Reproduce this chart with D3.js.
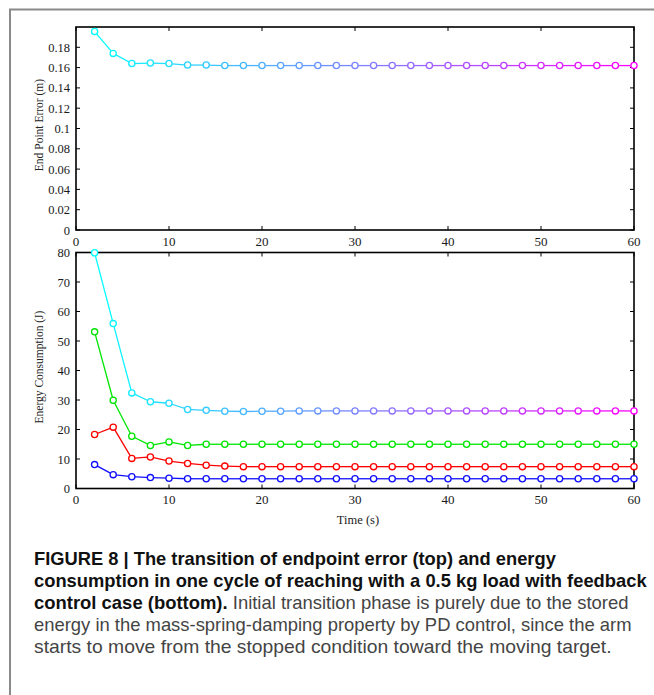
<!DOCTYPE html>
<html>
<head>
<meta charset="utf-8">
<script src="https://cdn.jsdelivr.net/npm/d3@7"></script>
<style>
html,body{margin:0;padding:0;background:#fff;}
svg{display:block;}
</style>
</head>
<body>
<svg id="chart" width="654" height="695"></svg>
<script>
// ---------- data ----------
const time = [2,4,6,8,10,12,14,16,18,20,22,24,26,28,30,32,34,36,38,40,42,44,46,48,50,52,54,56,58,60];

const endPointError = [0.1955,0.174,0.164,0.1645,0.164,0.1625,0.1625,0.162,0.162,0.162,
  0.162,0.162,0.162,0.162,0.162,0.162,0.162,0.162,0.162,0.162,
  0.162,0.162,0.162,0.162,0.162,0.162,0.162,0.162,0.162,0.162];

const energyCool = [79.9,55.9,32.4,29.4,28.9,26.8,26.5,26.2,26.1,26.2,
  26.2,26.3,26.3,26.3,26.3,26.3,26.3,26.3,26.3,26.3,
  26.3,26.3,26.3,26.3,26.3,26.3,26.3,26.3,26.3,26.3];
const energyGreen = [53.1,29.9,17.7,14.6,15.8,14.6,15.0,15.0,15.0,15.0,
  15.0,15.0,15.0,15.0,15.0,15.0,15.0,15.0,15.0,15.0,
  15.0,15.0,15.0,15.0,15.0,15.0,15.0,15.0,15.0,15.0];
const energyRed = [18.3,20.8,10.2,10.7,9.3,8.5,7.9,7.6,7.4,7.4,
  7.4,7.4,7.4,7.4,7.4,7.4,7.4,7.4,7.4,7.4,
  7.4,7.4,7.4,7.4,7.4,7.4,7.4,7.4,7.4,7.4];
const energyBlue = [8.1,4.7,4.0,3.7,3.5,3.3,3.3,3.3,3.3,3.3,
  3.3,3.3,3.3,3.3,3.3,3.3,3.3,3.3,3.3,3.3,
  3.3,3.3,3.3,3.3,3.3,3.3,3.3,3.3,3.3,3.3];

const xTicks = [0,10,20,30,40,50,60];
const errTicks = [0,0.02,0.04,0.06,0.08,0.1,0.12,0.14,0.16,0.18];
const energyTicks = [0,10,20,30,40,50,60,70,80];

const captionLines = [
  [{b:true,t:"FIGURE 8 | The transition of endpoint error (top) and energy"}],
  [{b:true,t:"consumption in one cycle of reaching with a 0.5 kg load with feedback"}],
  [{b:true,t:"control case (bottom)."},{b:false,t:" Initial transition phase is purely due to the stored"}],
  [{b:false,t:"energy in the mass-spring-damping property by PD control, since the arm"}],
  [{b:false,t:"starts to move from the stopped condition toward the moving target."}]
];

// ---------- drawing ----------
const svg = d3.select("#chart");
const serif = "'Liberation Serif','Times New Roman',serif";

// outer frame
svg.append("path").attr("d","M10,695 V9.5 H654").attr("fill","none")
  .attr("stroke","#8a8a8a").attr("stroke-width",2);

const cool = d3.interpolateRgb("#00ffff","#ff00ff");

function panel(opts){
  const {x0,x1,y0,y1,yDomain,yTicks,yFmt,title,titleX,titleY} = opts;
  const x = d3.scaleLinear().domain([0,60]).range([x0,x1]);
  const y = d3.scaleLinear().domain(yDomain).range([y1,y0]);
  const g = svg.append("g");
  const tl = 4;
  const tg = g.append("g").attr("stroke","#000").attr("stroke-width",1);
  xTicks.forEach(v=>{
    tg.append("line").attr("x1",x(v)).attr("x2",x(v)).attr("y1",y1).attr("y2",y1-tl);
    tg.append("line").attr("x1",x(v)).attr("x2",x(v)).attr("y1",y0).attr("y2",y0+tl);
  });
  yTicks.forEach(v=>{
    tg.append("line").attr("x1",x0).attr("x2",x0+tl).attr("y1",y(v)).attr("y2",y(v));
    tg.append("line").attr("x1",x1).attr("x2",x1-tl).attr("y1",y(v)).attr("y2",y(v));
  });
  g.append("rect").attr("x",x0).attr("y",y0).attr("width",x1-x0).attr("height",y1-y0)
    .attr("fill","none").attr("stroke","#000").attr("stroke-width",1.6);
  g.append("g").selectAll("text").data(xTicks).join("text")
    .attr("x",d=>x(d)).attr("y",y1+15.5).attr("text-anchor","middle")
    .attr("font-family",serif).attr("font-size",13).attr("fill","#1a1a1a").text(d=>d);
  g.append("g").selectAll("text").data(yTicks).join("text")
    .attr("x",x0-6).attr("y",d=>y(d)+4.5).attr("text-anchor","end")
    .attr("font-family",serif).attr("font-size",12.5).attr("fill","#1a1a1a").text(yFmt);
  g.append("text").attr("transform",`translate(${titleX},${titleY}) rotate(-90)`)
    .attr("text-anchor","middle").attr("font-family",serif).attr("font-size",11.5)
    .attr("fill","#222").text(title);
  return {x,y,g};
}

function drawSeries(p, values, colorFn){
  const pts = time.map((t,i)=>({t,v:values[i],i}));
  const n = pts.length;
  for(let i=0;i<n-1;i++){
    p.g.append("line")
      .attr("x1",p.x(pts[i].t)).attr("y1",p.y(pts[i].v))
      .attr("x2",p.x(pts[i+1].t)).attr("y2",p.y(pts[i+1].v))
      .attr("stroke",colorFn((i+0.5)/(n-1))).attr("stroke-width",1.3);
  }
  p.g.append("g").selectAll("circle").data(pts).join("circle")
    .attr("cx",d=>p.x(d.t)).attr("cy",d=>p.y(d.v)).attr("r",3.1)
    .attr("fill","#fff").attr("stroke",d=>colorFn(d.i/(n-1))).attr("stroke-width",1.3);
}

const topPanel = panel({x0:76,x1:634,y0:27,y1:230,yDomain:[0,0.2],yTicks:errTicks,
  yFmt:d=>String(+d.toFixed(2)),title:"End Point Error (m)",titleX:43,titleY:125});
drawSeries(topPanel, endPointError, cool);

const botPanel = panel({x0:76,x1:634,y0:252.5,y1:488.5,yDomain:[0,80],yTicks:energyTicks,
  yFmt:d=>d,title:"Energy Consumption (J)",titleX:43,titleY:367});
drawSeries(botPanel, energyCool, cool);
drawSeries(botPanel, energyGreen, ()=>"#00e600");
drawSeries(botPanel, energyRed, ()=>"#ff0000");
drawSeries(botPanel, energyBlue, ()=>"#1010ff");

svg.append("text").attr("x",358).attr("y",524).attr("text-anchor","middle")
  .attr("font-family",serif).attr("font-size",12.5).attr("fill","#222").text("Time (s)");

// caption: Helvetica-like face, horizontally condensed to the widths in the reference
const capFont = "'Liberation Sans',Arial,sans-serif";
const baselines = [564.5,586.5,608.5,630.5,652.5];
const lineWidths = [522,613,595,598,578];
captionLines.forEach((line,li)=>{
  const t = svg.append("text").attr("x",0).attr("y",0)
    .attr("font-family",capFont).attr("font-size",17.5);
  line.forEach(s=>{
    t.append("tspan").attr("font-weight",s.b?"bold":"normal")
     .attr("fill",s.b?"#111":"#444").text(s.t);
  });
  const w = t.node().getComputedTextLength();
  t.attr("transform",`translate(34,${baselines[li]}) scale(${lineWidths[li]/w},1)`);
});
</script>
</body>
</html>
